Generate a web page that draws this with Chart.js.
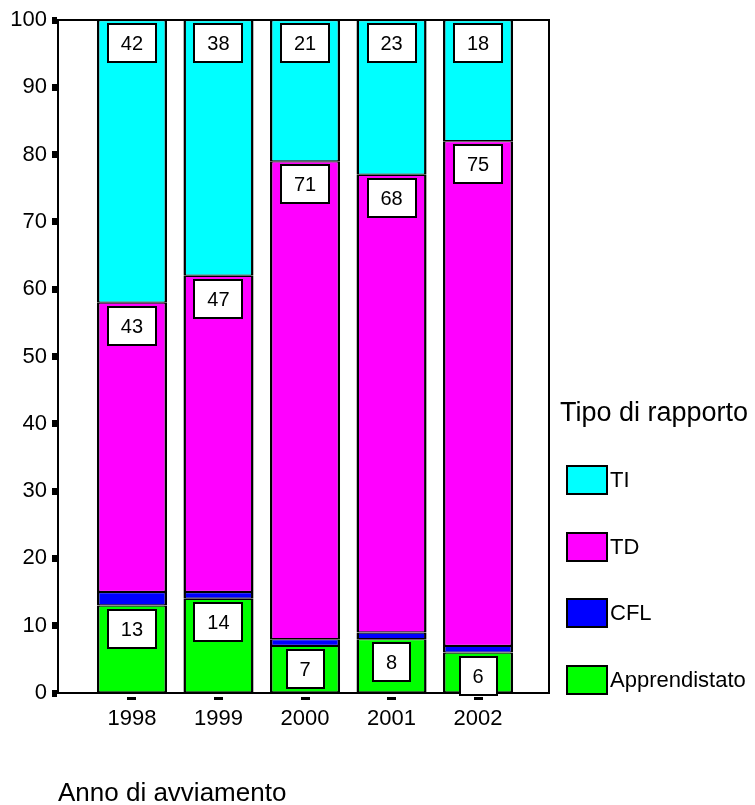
<!DOCTYPE html>
<html>
<head>
<meta charset="utf-8">
<title>Tipo di rapporto per anno di avviamento</title>
<script src="https://cdn.jsdelivr.net/npm/chart.js@4.4.1/dist/chart.umd.min.js"></script>
<style>
  html, body { margin: 0; padding: 0; background: #fff; }
  canvas { display: block; }
</style>
</head>
<body>
<canvas id="rapportoChart" width="755" height="805"></canvas>
<script>
// Percentuali per anno di avviamento e tipo di rapporto
const anni = [1998, 1999, 2000, 2001, 2002];
const apprendistato = [13, 14, 7, 8, 6];
const cfl = [2, 1, 1, 1, 1];
const td = [43, 47, 71, 68, 75];
const ti = [42, 38, 21, 23, 18];
const yTicks = [0, 10, 20, 30, 40, 50, 60, 70, 80, 90, 100];

const FONT = '"Liberation Sans", Arial, sans-serif';
Chart.defaults.font.family = FONT;
Chart.defaults.color = '#000';

const barStyle = {
    borderColor: '#000',
    borderWidth: { top: 1.2, bottom: 1.2, left: 2.5, right: 2.5 },
    borderSkipped: false,
    barPercentage: 0.81,
    categoryPercentage: 1
};

// Frame around the plot and the value boxes at the top of each segment
const etichette = {
    id: 'etichette',
    afterDatasetsDraw(chart) {
        const { ctx, chartArea: a } = chart;
        ctx.save();
        ctx.strokeStyle = '#000';
        ctx.lineWidth = 2;
        ctx.strokeRect(Math.round(a.left), Math.round(a.top),
            Math.round(a.right - a.left), Math.round(a.bottom - a.top));

        ctx.font = '20px ' + FONT;
        ctx.textAlign = 'center';
        ctx.textBaseline = 'middle';
        chart.data.datasets.forEach((ds, i) => {
            if (!ds.etichetta) return;
            chart.getDatasetMeta(i).data.forEach((bar, j) => {
                const txt = String(ds.data[j]);
                const w = Math.round(ctx.measureText(txt).width + 26);
                const h = 38;
                const x = Math.round(bar.x - w / 2);
                const y = Math.round(bar.y + 4);
                ctx.fillStyle = '#fff';
                ctx.fillRect(x, y, w, h);
                ctx.strokeRect(x, y, w, h);
                ctx.fillStyle = '#000';
                ctx.fillText(txt, bar.x, y + h / 2 + 1);
            });
        });
        ctx.restore();
    }
};

// Legend on the right, top series first
const legenda = {
    id: 'legenda',
    afterDraw(chart) {
        const { ctx, chartArea: a } = chart;
        const left = a.right + 18;
        ctx.save();
        ctx.fillStyle = '#000';
        ctx.font = '27px ' + FONT;
        ctx.textAlign = 'left';
        ctx.textBaseline = 'alphabetic';
        ctx.fillText('Tipo di rapporto', left - 7, 421);

        ctx.font = '22px ' + FONT;
        ctx.textBaseline = 'middle';
        ctx.lineWidth = 2;
        ctx.strokeStyle = '#000';
        const items = chart.data.datasets.slice().reverse();
        items.forEach((ds, i) => {
            const cy = 480 + i * 66.5;
            ctx.fillStyle = ds.backgroundColor;
            ctx.fillRect(left, Math.round(cy - 14), 40, 28);
            ctx.strokeRect(left, Math.round(cy - 14), 40, 28);
            ctx.fillStyle = '#000';
            ctx.fillText(ds.label, left + 43, cy + 1);
        });
        ctx.restore();
    }
};

const ctx = document.getElementById('rapportoChart').getContext('2d');
const rapportoChart = new Chart(ctx, {
    type: 'bar',
    data: {
        labels: anni,
        datasets: [
            { label: 'Apprendistato', data: apprendistato, backgroundColor: '#00ff00', etichetta: true, ...barStyle },
            { label: 'CFL', data: cfl, backgroundColor: '#0000ff', etichetta: false, ...barStyle },
            { label: 'TD', data: td, backgroundColor: '#ff00ff', etichetta: true, ...barStyle },
            { label: 'TI', data: ti, backgroundColor: '#00ffff', etichetta: true, ...barStyle }
        ]
    },
    options: {
        responsive: false,
        animation: false,
        layout: { padding: { top: 20, right: 206, bottom: 0, left: 0 } },
        plugins: {
            legend: { display: false },
            tooltip: { enabled: false }
        },
        scales: {
            x: {
                type: 'linear',
                stacked: true,
                offset: false,
                min: 1997.145,
                max: 2002.82,
                afterBuildTicks: s => { s.ticks = anni.map(v => ({ value: v })); },
                afterFit: s => { s.height = 112; },
                ticks: {
                    font: { size: 22 },
                    padding: 6,
                    maxRotation: 0,
                    callback: v => String(v)
                },
                grid: {
                    offset: false,
                    drawOnChartArea: false,
                    tickLength: 7,
                    tickWidth: 9,
                    tickColor: '#000',
                    tickBorderDash: [0, 3, 3, 20]
                },
                border: { display: true, color: '#000', width: 2 },
                title: {
                    display: true,
                    text: 'Anno di avviamento',
                    align: 'start',
                    font: { size: 26 },
                    padding: { top: 0, bottom: -4 }
                }
            },
            y: {
                stacked: true,
                min: 0,
                max: 100,
                afterBuildTicks: s => { s.ticks = yTicks.map(v => ({ value: v })); },
                afterFit: s => { s.width = 58; },
                ticks: {
                    font: { size: 22 },
                    padding: 5
                },
                grid: {
                    drawOnChartArea: false,
                    tickLength: 6,
                    tickWidth: 7,
                    tickColor: '#000'
                },
                border: { display: true, color: '#000', width: 2 }
            }
        }
    },
    plugins: [etichette, legenda]
});
</script>
</body>
</html>
